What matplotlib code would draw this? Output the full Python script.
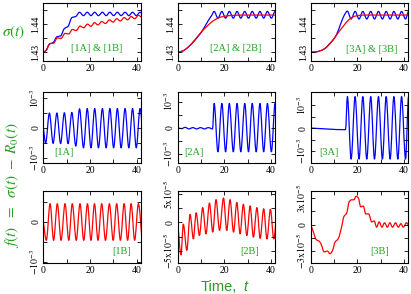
import numpy as np
import matplotlib
matplotlib.use("Agg")
import matplotlib.pyplot as plt
from matplotlib.path import Path
from matplotlib.patches import PathPatch

# ---- data (times t, values) ----
# top row: sigma(t)
t_s1a = [0, 1.0, 2.6, 4.2, 5.8, 7.4, 9.0, 10.6, 12.2, 13.9, 15.5, 17.2, 18.8, 20.4,
         22.0, 23.6, 25.3, 26.9, 28.5, 30.1, 31.7, 33.3, 35.0, 36.6, 38.2, 39.8, 41.4, 43.0]
s1a = [1.4300, 1.4305, 1.4329, 1.4334, 1.4355, 1.4358, 1.4384, 1.4392, 1.4423, 1.4427,
       1.4442, 1.4430, 1.4442, 1.4430, 1.4442, 1.4430, 1.4442, 1.4430, 1.4442, 1.4430,
       1.4442, 1.4430, 1.4442, 1.4430, 1.4442, 1.4430, 1.4442, 1.4430]
t_s1b = [0, 1.3, 2.9, 4.4, 6.0, 7.6, 9.3, 10.9, 12.4, 14.1, 15.7, 17.3, 18.9, 20.4,
         21.9, 23.4, 25.0, 26.6, 28.3, 29.9, 31.4, 33.0, 34.6, 36.1, 37.6, 39.1, 40.7, 42.3]
s1b = [1.4300, 1.4307, 1.4331, 1.4332, 1.4351, 1.4349, 1.4367, 1.4365, 1.4381, 1.4377,
       1.4393, 1.4387, 1.4400, 1.4392, 1.4405, 1.4397, 1.4409, 1.4402, 1.4415, 1.4407,
       1.4419, 1.4411, 1.4423, 1.4415, 1.4427, 1.4419, 1.4431, 1.4422]
t_s2a = [0, 2, 4, 6, 8, 10, 11.3, 12.5, 13.5, 14.5, 15.6, 17.2, 18.9, 20.5, 22.1, 23.8,
         25.4, 27.0, 28.7, 30.3, 31.9, 33.6, 35.2, 36.8, 38.4, 40.1, 41.7, 43.3]
s2a = [1.4300, 1.4304, 1.4315, 1.4330, 1.4349, 1.4370, 1.4387, 1.4404, 1.4418, 1.4430,
       1.4445, 1.4421, 1.4445, 1.4421, 1.4445, 1.4421, 1.4445, 1.4421, 1.4445, 1.4421,
       1.4445, 1.4421, 1.4445, 1.4421, 1.4445, 1.4421, 1.4445, 1.4421]
t_s2b = [0, 2, 3.9, 5.3, 6.7, 8.2, 9.6, 11.0, 12.4, 13.9, 15.3, 16.7, 18.1, 21.0, 23.9,
         28.0, 33.0, 38.0, 43.0]
s2b = [1.4300, 1.4304, 1.4314, 1.4325, 1.4338, 1.4353, 1.4367, 1.4380, 1.4391, 1.4403,
       1.4412, 1.4419, 1.4424, 1.4429, 1.4431, 1.4432, 1.4432, 1.4432, 1.4432]
t_s3a = [0, 2, 4, 6, 8, 10, 11, 12, 13.2, 14.4, 15.7, 17.3, 19.0, 20.7, 22.3, 24.0,
         25.7, 27.3, 29.0, 30.7, 32.3, 34.0, 35.6, 37.3, 38.9, 40.6, 41.9, 43.5]
s3a = [1.4300, 1.4301, 1.4305, 1.4313, 1.4330, 1.4348, 1.4362, 1.4382, 1.4409, 1.4432,
       1.4446, 1.4418, 1.4445, 1.4418, 1.4445, 1.4418, 1.4445, 1.4418, 1.4445, 1.4418,
       1.4445, 1.4418, 1.4445, 1.4418, 1.4445, 1.4418, 1.4445, 1.4418]
t_s3b = [0, 2, 4, 6, 8, 10, 12, 14, 16, 18, 20, 23, 30, 43]
s3b = [1.4300, 1.4301, 1.4305, 1.4313, 1.4328, 1.4349, 1.4372, 1.4393, 1.4413, 1.4425,
       1.4430, 1.4432, 1.4432, 1.4432]

# middle row: f(t) for A cases, units of 1e-3
t_f1a = t_s1a
f1a = [0, -0.50, 0.50, -0.51, 0.50, -0.52, 0.51, -0.52, 0.52, -0.60, 0.64, -0.66,
       0.65, -0.66, 0.65, -0.66, 0.65, -0.66, 0.65, -0.66, 0.65, -0.66, 0.65, -0.66,
       0.65, -0.66, 0.65, -0.66]
t_f2a = [0, 1.6, 3.2, 4.8, 6.5, 8.1, 9.8, 11.4, 13.1, 14.9, 15.6, 17.2, 18.9, 20.5,
         22.1, 23.8, 25.4, 27.0, 28.7, 30.3, 31.9, 33.6, 35.2, 36.8, 38.4, 40.1, 41.7, 43.3]
f2a = [0, -0.04, 0.01, -0.05, 0.0, -0.05, 0.0, -0.05, 0.0, -0.05, 0.93, -0.93,
       0.93, -0.93, 0.93, -0.93, 0.93, -0.93, 0.93, -0.93, 0.93, -0.93, 0.93, -0.93,
       0.93, -0.93, 0.93, -0.93]
t_f3a = [0, 14.9, 15.7, 17.3, 19.0, 20.7, 22.3, 24.0, 25.7, 27.3, 29.0, 30.7, 32.3,
         34.0, 35.6, 37.3, 38.9, 40.6, 41.9, 43.5]
f3a = [0, -0.07, 1.37, -1.35, 1.37, -1.35, 1.37, -1.35, 1.37, -1.35, 1.37, -1.35,
       1.37, -1.35, 1.37, -1.35, 1.37, -1.35, 1.37, -1.35]

# bottom row: f(t) for B cases
t_f1b = t_s1b  # units 1e-3
f1b = [0, -0.46, 0.46, -0.46, 0.46, -0.46, 0.46, -0.46, 0.46, -0.46, 0.46, -0.46,
       0.46, -0.46, 0.46, -0.46, 0.46, -0.46, 0.46, -0.46, 0.46, -0.46, 0.46, -0.46,
       0.46, -0.46, 0.46, -0.46]
t_f2b = [0, 1.4, 2.4, 3.9, 5.3, 6.7, 7.9, 9.3, 10.7, 12.1, 13.6, 15.0, 16.4, 17.9,
         19.6, 21.0, 22.4, 23.9, 25.3, 26.7, 28.1, 29.6, 31.0, 32.4, 33.9, 35.3, 36.8,
         38.2, 39.7, 41.1, 42.5]  # units 1e-5
f2b = [0, -5.7, -0.3, -4.9, 1.4, -2.9, 1.7, -2.3, 2.6, -2.0, 3.4, -1.7, 4.0, -1.4,
       4.3, -1.4, 4.0, -1.7, 3.5, -2.0, 3.2, -2.3, 2.9, -2.6, 2.6, -2.8, 2.4, -2.9,
       2.3, -2.9, 2.2]
t_f3b = [0, 1.1, 2.3, 3.7, 4.7, 5.7, 7.1, 8.3, 9.4, 10.4, 11.8, 13.2, 14.2, 15.4,
         16.5, 17.5, 18.5, 19.4, 20.4, 21.4, 22.5, 23.6, 24.8, 26.1, 27.2, 28.2, 29.3,
         30.5, 31.6, 32.8, 33.9, 35.0, 36.3, 37.5, 38.6, 39.6, 41.0, 42.2]  # units 1e-5
f3b = [0.0, -0.8, -1.7, -1.9, -2.4, -3.1, -3.0, -3.3, -2.9, -2.0, -1.6, -0.3, 0.9,
       1.3, 2.6, 2.8, 2.8, 3.2, 3.0, 2.0, 2.1, 1.2, 1.2, 0.3, 0.4, -0.3, 0.3, -0.3,
       0.2, -0.3, 0.2, -0.3, 0.2, -0.3, 0.1, -0.3, 0.2, -0.3]

GREEN = '#22a022'
BLUE = '#0000ff'
RED = '#ff0000'

plt.rcParams['font.family'] = 'Liberation Serif'
plt.rcParams['mathtext.fontset'] = 'stix'


def smooth_line(ax, t, y, color):
    """Draw a smooth curve through the points (monotone cubic, as bezier path)."""
    t = np.asarray(t, float)
    y = np.asarray(y, float)
    h = np.diff(t)
    d = np.diff(y) / h
    m = np.zeros_like(y)
    for i in range(1, len(y) - 1):
        if d[i - 1] * d[i] > 0:
            w1 = 2 * h[i] + h[i - 1]
            w2 = h[i] + 2 * h[i - 1]
            m[i] = (w1 + w2) / (w1 / d[i - 1] + w2 / d[i])
    m[0] = d[0]
    m[-1] = d[-1]
    verts = [(t[0], y[0])]
    codes = [Path.MOVETO]
    for i in range(len(h)):
        verts += [(t[i] + h[i] / 3, y[i] + m[i] * h[i] / 3),
                  (t[i + 1] - h[i] / 3, y[i + 1] - m[i + 1] * h[i] / 3),
                  (t[i + 1], y[i + 1])]
        codes += [Path.CURVE4] * 3
    ax.add_patch(PathPatch(Path(verts, codes), fill=False, edgecolor=color,
                           lw=0.9, joinstyle='round'))


def style_axes(ax, ylim, yticks, ylabels):
    ax.set_xlim(0, 41.7)
    ax.set_ylim(*ylim)
    ax.set_xticks([0, 10, 20, 30, 40])
    ax.set_xticklabels(['0', '', '20', '', '40'], fontsize=7)
    ax.set_yticks(yticks)
    ax.set_yticklabels(ylabels, fontsize=7, rotation=90, va='center')
    ax.tick_params(direction='in', top=True, right=True, length=3, width=0.6,
                   pad=2)
    for s in ax.spines.values():
        s.set_linewidth(0.8)


fig = plt.figure(figsize=(4.11, 2.94), dpi=100)

lefts = [0.1054, 0.4324, 0.756]
width = 0.237
rows = [(0.7925, 0.990), (0.444, 0.687), (0.104, 0.352)]


def make_ax(r, c):
    b, t = rows[r]
    return fig.add_axes([lefts[c], b, width, t - b])


top_ticks = [1.43, 1.435, 1.44, 1.445]
top_labels = ['1.43', '', '1.44', '']
top_lim = (1.4269, 1.4475)
top_series = [(t_s1a, s1a, t_s1b, s1b, '[1A] & [1B]', 0.55, 0.22),
              (t_s2a, s2a, t_s2b, s2b, '[2A] & [2B]', 0.60, 0.22),
              (t_s3a, s3a, t_s3b, s3b, '[3A] & [3B]', 0.63, 0.19)]
for c, (ta, sa, tb, sb, lab, lx, ly) in enumerate(top_series):
    ax = make_ax(0, c)
    smooth_line(ax, ta, sa, BLUE)
    smooth_line(ax, tb, sb, RED)
    style_axes(ax, top_lim, top_ticks, top_labels)
    ax.text(lx, ly, lab, transform=ax.transAxes, color=GREEN, fontsize=7.5,
            ha='center', va='center')

e3 = [r'$-10^{-3}$', '', '0', '', r'$10^{-3}$']
mid = [(t_f1a, f1a, (-1.18, 1.2), [-1, -0.5, 0, 0.5, 1], e3, '[1A]', 0.21),
       (t_f2a, f2a, (-1.38, 1.37), [-1, -0.5, 0, 0.5, 1], e3, '[2A]', 0.17),
       (t_f3a, f3a, (-1.54, 1.57), [-1, -0.5, 0, 0.5, 1], e3, '[3A]', 0.19)]
for c, (t, f, lim, ticks, labels, lab, lx) in enumerate(mid):
    ax = make_ax(1, c)
    smooth_line(ax, t, f, BLUE)
    style_axes(ax, lim, ticks, labels)
    ax.text(lx, 0.15, lab, transform=ax.transAxes, color=GREEN, fontsize=7.5,
            ha='center', va='center')

bot = [(t_f1b, f1b, (-1.04, 0.79), [-1, -0.5, 0, 0.5],
        [r'$-10^{-3}$', '', '0', ''], '[1B]', 0.80),
       (t_f2b, f2b, (-7.2, 5.6), [-5, -2.5, 0, 2.5, 5],
        [r'$-5{\rm x}10^{-5}$', '', '0', '', r'$5{\rm x}10^{-5}$'], '[2B]', 0.74),
       (t_f3b, f3b, (-4.4, 3.85), [-3, -1.5, 0, 1.5, 3],
        [r'$-3{\rm x}10^{-5}$', '', '0', '', r'$3{\rm x}10^{-5}$'], '[3B]', 0.71)]
for c, (t, f, lim, ticks, labels, lab, lx) in enumerate(bot):
    ax = make_ax(2, c)
    smooth_line(ax, t, f, RED)
    style_axes(ax, lim, ticks, labels)
    ax.text(lx, 0.16, lab, transform=ax.transAxes, color=GREEN, fontsize=7.5,
            ha='center', va='center')

fig.text(0.033, 0.89, r'$\sigma(t)$', color=GREEN, fontsize=11,
         ha='center', va='center')
fig.text(0.030, 0.37, r'$f(t)\ \ =\ \ \sigma(t)\ -\ R_0(t)$', color=GREEN,
         fontsize=11, rotation=90, ha='center', va='center')
fig.text(0.533, 0.025, 'Time,', color=GREEN, fontsize=10.5,
         family='Liberation Sans', ha='center', va='center')
fig.text(0.598, 0.025, 't', color=GREEN, fontsize=10.5, style='italic',
         family='Liberation Sans', ha='center', va='center')

fig.savefig('out.png', dpi=100)
